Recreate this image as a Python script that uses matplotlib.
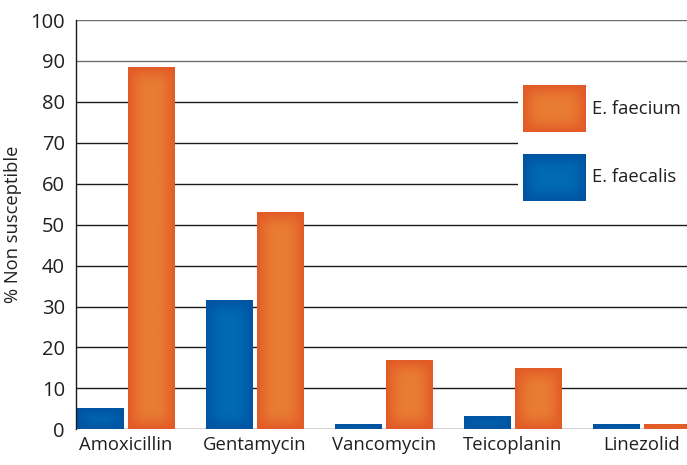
import numpy as np
import matplotlib
matplotlib.use("Agg")
import matplotlib.pyplot as plt
from matplotlib.patches import Rectangle

plt.rcParams['font.family'] = ['Open Sans', 'DejaVu Sans']

categories = ['Amoxicillin', 'Gentamycin', 'Vancomycin', 'Teicoplanin', 'Linezolid']
faecalis = [5.0, 31.5, 1.0, 3.0, 1.0]
faecium = [88.3, 53.0, 16.7, 14.7, 1.0]
series_names = ['E. faecium', 'E. faecalis']
yticks = list(range(0, 101, 10))

W, H = 687, 465
DPI = 100
ORANGE_C = np.array([233, 124, 51]) / 255
ORANGE_E = np.array([226, 90, 39]) / 255
BLUE_C = np.array([0, 106, 178]) / 255
BLUE_E = np.array([0, 84, 162]) / 255
TEXT = '#231f20'


def vignette(nx, ny, c_center, c_edge, edge=20.0):
    nx = max(int(round(nx)), 2)
    ny = max(int(round(ny)), 2)
    x = np.arange(nx) + 0.5
    y = np.arange(ny) + 0.5
    dx = np.minimum(x, nx - x)
    dy = np.minimum(y, ny - y)
    tx = np.sin(np.clip(dx / edge, 0, 1) * np.pi / 2)
    ty = np.sin(np.clip(dy / edge, 0, 1) * np.pi / 2)
    t = ty[:, None] * tx[None, :]
    return c_edge + (c_center - c_edge) * t[..., None]


fig = plt.figure(figsize=(W / DPI, H / DPI), dpi=DPI)
ax_left, ax_bottom = 76 / W, (H - 429.3) / H
ax_top = (H - 20) / H
ax = fig.add_axes([ax_left, ax_bottom, 1.0 - ax_left, ax_top - ax_bottom])

x0, x1 = -0.388, 4.349
ax.set_xlim(x0, x1)
ax.set_ylim(0, 100)

px_per_x = (W - 76) / (x1 - x0)
px_per_y = (429.3 - 20) / 100

bar_w = 0.364
offset = 0.198

for gl in yticks:
    col = '#6f6f6f' if gl >= 90 else '#1a1a1a'
    ax.axhline(gl, color=col, lw=1.0, zorder=1)

idx = np.arange(len(categories))
for vals, shift, cc, ce in [(faecalis, -offset, BLUE_C, BLUE_E),
                            (faecium, offset, ORANGE_C, ORANGE_E)]:
    for i, v in zip(idx, vals):
        left = i + shift - bar_w / 2
        img = vignette(bar_w * px_per_x, v * px_per_y, cc, ce)
        ax.imshow(img, extent=(left, left + bar_w, 0, v), aspect='auto',
                  interpolation='bilinear', zorder=3)

ax.set_xlim(x0, x1)
ax.set_ylim(0, 100)

# legend panel
ax.add_patch(Rectangle((3.04, 52), 2.0, 36, facecolor='white',
                       edgecolor='none', zorder=4))
colors = [(ORANGE_C, ORANGE_E), (BLUE_C, BLUE_E)]
tops = [85, 154]
for name, (cc, ce), top in zip(series_names, colors, tops):
    lax = fig.add_axes([523 / W, (H - top - 47) / H, 63 / W, 47 / H], zorder=5)
    lax.imshow(vignette(63, 47, cc, ce), aspect='auto', interpolation='bilinear')
    lax.axis('off')
    fig.text(592 / W, (H - top - 23.5) / H, name, fontsize=13.3, color=TEXT,
             ha='left', va='center')

for s in ['top', 'right', 'bottom']:
    ax.spines[s].set_visible(False)
ax.spines['left'].set_color('#1a1a1a')
ax.spines['left'].set_linewidth(1.0)
ax.spines['left'].set_zorder(6)

ax.set_yticks(yticks)
ax.set_yticklabels([str(t) for t in yticks], fontsize=14.5, color=TEXT)
ax.set_xticks(idx)
ax.set_xticklabels(categories, fontsize=13.3, color=TEXT)
ax.tick_params(axis='y', length=0, pad=8)
ax.tick_params(axis='x', length=0, pad=5)
ax.set_ylabel('% Non susceptible', fontsize=13.2, color=TEXT)
ax.yaxis.set_label_coords(-54 / (W - 76), 0.5)

fig.savefig('out.png', dpi=DPI)
